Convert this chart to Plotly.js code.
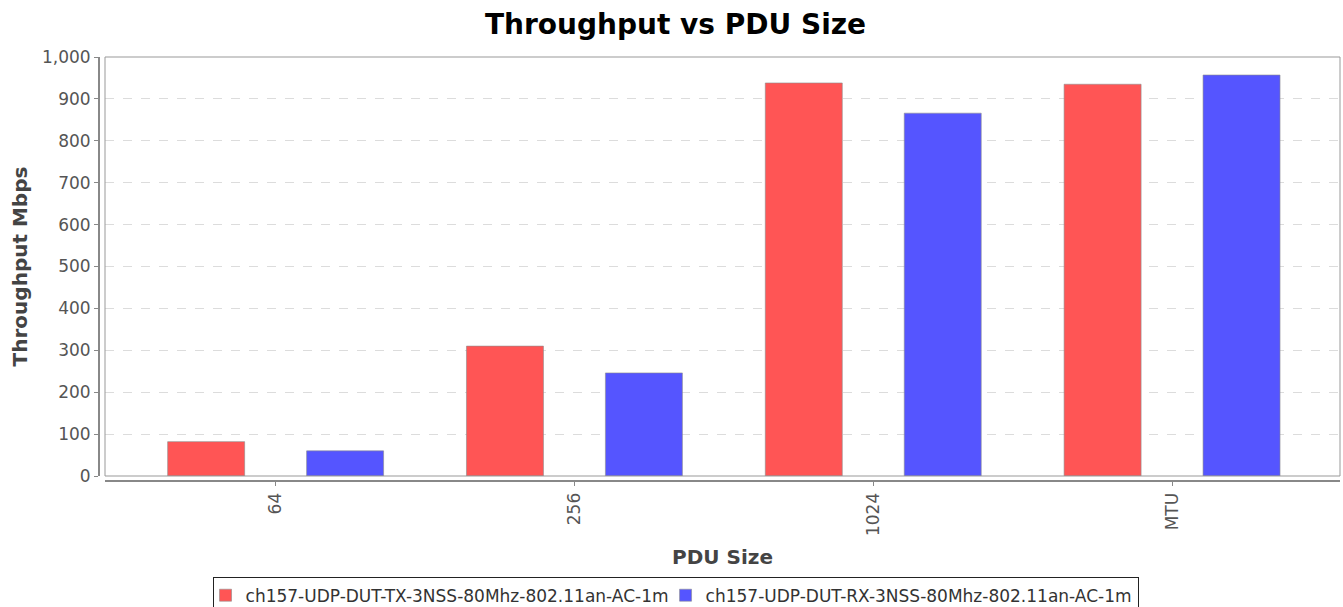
<!DOCTYPE html>
<html>
<head>
<meta charset="utf-8">
<script src="https://cdn.plot.ly/plotly-3.0.1.min.js"></script>
<style>html,body{margin:0;padding:0;background:#fff;}#chart{width:1343px;height:607px;}</style>
</head>
<body>
<div id="chart"></div>
<script>
var categories = ["64", "256", "1024", "MTU"];
var txName = "ch157-UDP-DUT-TX-3NSS-80Mhz-802.11an-AC-1m";
var rxName = "ch157-UDP-DUT-RX-3NSS-80Mhz-802.11an-AC-1m";
var txValues = [82, 310, 938, 935];
var rxValues = [60, 246, 866, 957];
var yTicks = [0, 100, 200, 300, 400, 500, 600, 700, 800, 900, 1000];

var W = 1343, H = 607;
var ml = 99, mr = 2, mt = 57, mb = 126;
var pw = W - ml - mr, ph = H - mt - mb;

var traces = [
  {type: "bar", x: categories, y: txValues, name: txName,
   marker: {color: "#FF5555", line: {color: "rgba(140,140,140,0.6)", width: 1}}},
  {type: "bar", x: categories, y: rxValues, name: rxName,
   marker: {color: "#5555FF", line: {color: "rgba(140,140,140,0.6)", width: 1}}}
];

var font = "DejaVu Sans, sans-serif";
var layout = {
  width: W, height: H,
  margin: {l: ml, r: mr, t: mt, b: mb, pad: 0},
  paper_bgcolor: "#fff", plot_bgcolor: "#fff",
  barmode: "group", bargap: 0.07, bargroupgap: 0.446,
  showlegend: true,
  title: {text: "<b>Throughput vs PDU Size</b>", font: {family: font, size: 28, color: "#000"},
          xref: "container", x: 0.503, xanchor: "center", yref: "container", y: 0.96, yanchor: "middle"},
  xaxis: {
    type: "category", range: [-0.571, 3.562], domain: [6 / pw, (1340 - ml) / pw],
    anchor: "free", position: 0,
    showline: true, linecolor: "#888", linewidth: 2,
    ticks: "outside", ticklen: 4, tickcolor: "#888", tickangle: -90,
    tickfont: {family: font, size: 17, color: "#555"},
    showgrid: false, zeroline: false,
    title: {text: "<b>PDU Size</b>", font: {family: font, size: 20, color: "#444"}, standoff: 14}
  },
  yaxis: {
    range: [0, 1000], domain: [5 / ph, 1], anchor: "free", position: 0,
    tickvals: yTicks, tickformat: ",d",
    showline: true, linecolor: "#888", linewidth: 2,
    ticks: "outside", ticklen: 4, tickcolor: "#888",
    tickfont: {family: font, size: 17, color: "#555"},
    showgrid: true, gridcolor: "#dcdcdc", griddash: "dash", gridwidth: 1,
    zeroline: false,
    title: {text: "<b>Throughput Mbps</b>", font: {family: font, size: 20, color: "#444"}, standoff: 8}
  },
  legend: {
    orientation: "h", xref: "container", yref: "container",
    x: 0.503, xanchor: "center", y: 0.05, yanchor: "top",
    bordercolor: "#222", borderwidth: 1, bgcolor: "#fff",
    font: {family: font, size: 17, color: "#333"},
    itemwidth: 30, tracegroupgap: 0, indentation: -8
  },
  shapes: [
    {type: "rect", xref: "x domain", yref: "y domain", x0: 0, x1: 1, y0: 0, y1: 1,
     line: {color: "#999", width: 1}, layer: "above"}
  ]
};

Plotly.newPlot("chart", traces, layout, {displayModeBar: false, staticPlot: true});
</script>
</body>
</html>
